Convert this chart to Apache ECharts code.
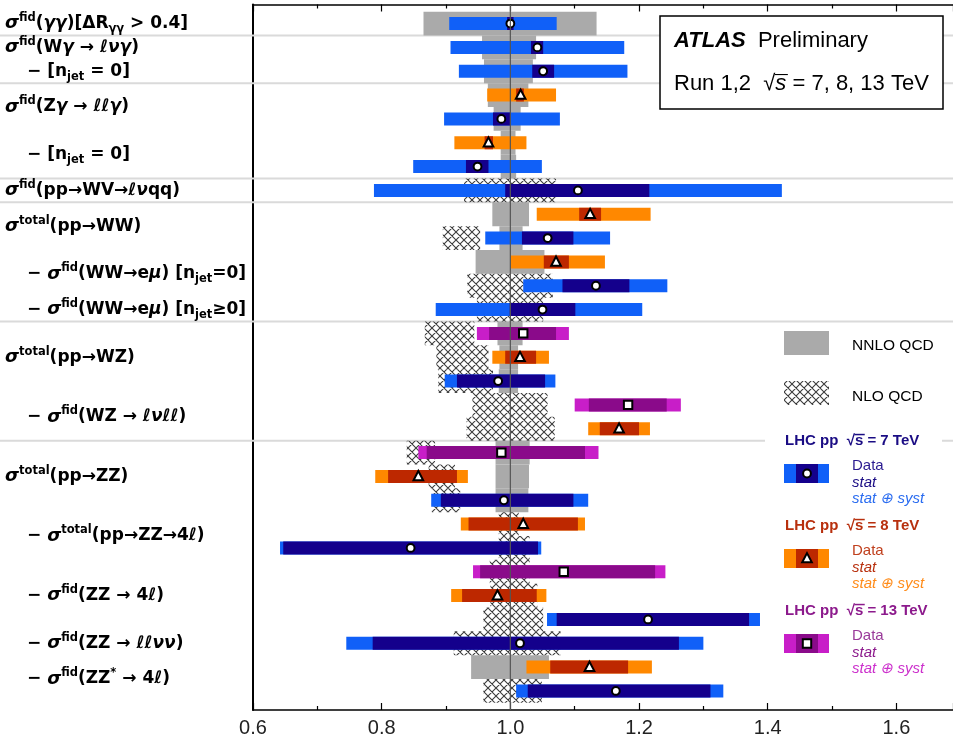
<!DOCTYPE html>
<html>
<head>
<meta charset="utf-8">
<script src="https://cdn.jsdelivr.net/npm/echarts@6/dist/echarts.min.js"></script>
<style>
  html, body { margin: 0; padding: 0; background: #fff; }
  #chart { width: 953px; height: 743px; }
</style>
</head>
<body>
<div id="chart"></div>
<script>
// ---- measurements, one entry per row (top to bottom), ratio data / NNLO ----
const rowEnergy = [7, 7, 7, 8, 7, 8, 7, 7, 8, 7, 8, 7, 7, 13, 8, 7, 13, 8, 13, 8, 7, 8, 7, 13, 8, 7, 7, 8, 7];
const central   = [1.000, 1.042, 1.051, 1.016, 0.986, 0.966, 0.949, 1.105, 1.124, 1.058, 1.071, 1.133, 1.050, 1.020, 1.015,
                   0.981, 1.183, 1.169, 0.986, 0.857, 0.990, 1.020, 0.845, 1.083, 0.980, 1.214, 1.015, 1.123, 1.164];
const statLow   = [0.995, 1.032, 1.034, 1.009, 0.973, 0.960, 0.931, 0.992, 1.107, 1.018, 1.052, 1.081, 0.999, 0.967, 0.992,
                   0.917, 1.122, 1.139, 0.870, 0.810, 0.892, 0.935, 0.647, 0.953, 0.925, 1.072, 0.786, 1.062, 1.027];
const statHigh  = [1.005, 1.051, 1.068, 1.021, 1.000, 0.973, 0.966, 1.216, 1.141, 1.098, 1.091, 1.185, 1.101, 1.071, 1.040,
                   1.054, 1.243, 1.200, 1.116, 0.917, 1.098, 1.105, 1.043, 1.225, 1.041, 1.371, 1.262, 1.183, 1.311];
const totLow    = [0.905, 0.907, 0.920, 0.964, 0.897, 0.913, 0.849, 0.788, 1.041, 0.961, 1.000, 1.020, 0.884, 0.948, 0.972,
                   0.898, 1.100, 1.121, 0.857, 0.790, 0.877, 0.923, 0.642, 0.942, 0.908, 1.057, 0.745, 1.025, 1.009];
const totHigh   = [1.072, 1.177, 1.182, 1.071, 1.077, 1.025, 1.049, 1.422, 1.218, 1.155, 1.147, 1.244, 1.205, 1.091, 1.060,
                   1.070, 1.265, 1.217, 1.137, 0.934, 1.121, 1.116, 1.048, 1.241, 1.056, 1.388, 1.300, 1.220, 1.331];

// ---- theory bands per row (null = not shown) ----
const nnloLow  = [0.865, 0.956, 0.959, 0.965, 0.974, 0.985, 0.985, null, 0.972, 0.983, 0.946, null, null, 0.980, 0.983,
                  0.982, null, null, 0.977, 0.977, 0.977, null, null, null, null, null, null, 0.939, null];
const nnloHigh = [1.134, 1.040, 1.035, 1.028, 1.016, 1.008, 1.009, null, 1.029, 1.019, 1.053, null, null, 1.019, 1.012,
                  1.012, null, null, 1.030, 1.029, 1.028, null, null, null, null, null, null, 1.060, null];
const nloLow   = [null, null, null, null, null, null, null, 0.928, null, 0.895, null, 0.933, 0.948, 0.867, 0.885,
                  0.888, 0.941, 0.932, 0.839, 0.873, 0.878, 0.982, 0.982, 0.968, 0.969, 0.958, 0.912, null, 0.958];
const nloHigh  = [null, null, null, null, null, null, null, 1.071, null, 0.953, null, 1.066, 1.051, 0.944, 0.966,
                  0.973, 1.058, 1.069, 0.883, 0.914, 0.922, 1.013, 1.030, 1.030, 1.042, 1.051, 1.078, null, 1.049];

// ---- process labels and their row positions ----
const labelText = [
  '{s|σ}{sup|fid}{b|(}{g|γγ}{b|)[ΔR}{sub|γγ}{b| > 0.4]}',
  '{s|σ}{sup|fid}{b|(W}{g|γ}{b| → }{g|ℓνγ}{b|)}',
  '{b|− [n}{sub|jet}{b| = 0]}',
  '{s|σ}{sup|fid}{b|(Z}{g|γ}{b| → }{g|ℓℓγ}{b|)}',
  '{b|− [n}{sub|jet}{b| = 0]}',
  '{s|σ}{sup|fid}{b|(pp→WV→}{g|ℓν}{b|qq)}',
  '{s|σ}{sup|total}{b|(pp→WW)}',
  '{b|− }{s|σ}{sup|fid}{b|(WW→e}{g|μ}{b|) [n}{sub|jet}{b|=0]}',
  '{b|− }{s|σ}{sup|fid}{b|(WW→e}{g|μ}{b|) [n}{sub|jet}{b|≥0]}',
  '{s|σ}{sup|total}{b|(pp→WZ)}',
  '{b|− }{s|σ}{sup|fid}{b|(WZ → }{g|ℓνℓℓ}{b|)}',
  '{s|σ}{sup|total}{b|(pp→ZZ)}',
  '{b|− }{s|σ}{sup|total}{b|(pp→ZZ→4}{g|ℓ}{b|)}',
  '{b|− }{s|σ}{sup|fid}{b|(ZZ → 4}{g|ℓ}{b|)}',
  '{b|− }{s|σ}{sup|fid}{b|(ZZ → }{g|ℓℓνν}{b|)}',
  '{b|− }{s|σ}{sup|fid}{b|(ZZ}{sup|*}{b| → 4}{g|ℓ}{b|)}'
];
const labelRow    = [1, 2, 3, 4.5, 6.5, 8, 9.5, 11.5, 13, 15, 17.5, 20, 22.5, 25, 27, 28.5];
const labelIndent = [0, 0, 1, 0, 1, 0, 0, 1, 1, 0, 1, 0, 1, 1, 1, 1];

// group separators (between rows)
const separatorRows = [1.5, 3.5, 7.5, 8.5, 13.5, 18.5];

// axis
const X_MIN = 0.6, X_MAX = 1.688, X_STEP = 0.2;
const Y_MIN = 0.2, Y_MAX = 29.8;
const REF_RATIO = 1.0;

// ---- styling ----
const ENERGY_STYLE = {
  7:  { syst: '#1060f8', stat: '#14008c', marker: 'circle',   text: '#1a0c84', light: '#2a6cf0', dataText: '#2a1a90' },
  8:  { syst: '#ff8800', stat: '#bd2800', marker: 'triangle', text: '#b8300e', light: '#ff8c1a', dataText: '#c0401e' },
  13: { syst: '#c81ec8', stat: '#8a0a8a', marker: 'square',   text: '#8c1a8c', light: '#cc30cc', dataText: '#9a3a9a' }
};
const BAR_H = 13;
const GREY = '#aaaaaa';
const LABEL_FONT = 'DejaVu Sans';
const SANS = 'Liberation Sans';

function makeHatch() {
  const c = document.createElement('canvas');
  c.width = 8; c.height = 8;
  const g = c.getContext('2d');
  g.strokeStyle = '#3c3c3c';
  g.lineWidth = 1.1;
  g.beginPath();
  for (const k of [-8, 0, 8]) {
    g.moveTo(k - 1, -1); g.lineTo(k + 9, 9);
    g.moveTo(k - 1, 9);  g.lineTo(k + 9, -1);
  }
  g.stroke();
  return c;
}
const hatch = makeHatch();

// text width helper, used to place the bar over "√s"
const measureCtx = document.createElement('canvas').getContext('2d');
function textWidth(str, font) { measureCtx.font = font; return measureCtx.measureText(str).width; }

const rowIdx = central.map((_, i) => i);

function bandSeries(lowArr, highArr, fill) {
  const data = rowIdx.filter(i => lowArr[i] != null).map(i => [lowArr[i], highArr[i], i + 1]);
  return {
    type: 'custom', coordinateSystem: 'cartesian2d', data, silent: true, clip: true, z: 2,
    renderItem(params, api) {
      const p0 = api.coord([api.value(0), api.value(2) - 0.5]);
      const p1 = api.coord([api.value(1), api.value(2) + 0.5]);
      return { type: 'rect', shape: { x: p0[0], y: p0[1], width: p1[0] - p0[0], height: p1[1] - p0[1] },
               style: { fill } };
    }
  };
}

function barSeries(lowArr, highArr, key, z) {
  const data = rowIdx.map(i => [lowArr[i], highArr[i], i + 1, rowEnergy[i]]);
  return {
    type: 'custom', coordinateSystem: 'cartesian2d', data, silent: true, clip: true, z,
    renderItem(params, api) {
      const p0 = api.coord([api.value(0), api.value(2)]);
      const p1 = api.coord([api.value(1), api.value(2)]);
      return { type: 'rect', shape: { x: p0[0], y: p0[1] - BAR_H / 2, width: p1[0] - p0[0], height: BAR_H },
               style: { fill: ENERGY_STYLE[api.value(3)][key] } };
    }
  };
}

function markerShape(kind, cx, cy) {
  const st = { fill: '#fff', stroke: '#000', lineWidth: 2 };
  if (kind === 'circle') return { type: 'circle', shape: { cx, cy, r: 3.9 }, style: st };
  if (kind === 'square') return { type: 'rect', shape: { x: cx - 4.2, y: cy - 4.2, width: 8.4, height: 8.4 }, style: st };
  return { type: 'polygon', shape: { points: [[cx, cy - 5.4], [cx + 4.8, cy + 3.8], [cx - 4.8, cy + 3.8]] }, style: st };
}

const markerSeries = {
  type: 'custom', coordinateSystem: 'cartesian2d', silent: true, clip: true, z: 5,
  data: rowIdx.map(i => [central[i], i + 1, rowEnergy[i]]),
  renderItem(params, api) {
    const p = api.coord([api.value(0), api.value(1)]);
    return markerShape(ENERGY_STYLE[api.value(2)].marker, p[0], p[1]);
  }
};

const refLineSeries = {
  type: 'custom', coordinateSystem: 'cartesian2d', silent: true, clip: true, z: 6,
  data: [[REF_RATIO]],
  renderItem(params, api) {
    const a = api.coord([api.value(0), Y_MIN]);
    const b = api.coord([api.value(0), Y_MAX]);
    return { type: 'line', shape: { x1: a[0], y1: a[1], x2: b[0], y2: b[1] },
             style: { stroke: '#555', lineWidth: 1.2 } };
  }
};

const separatorSeries = {
  type: 'custom', coordinateSystem: 'cartesian2d', silent: true, clip: false, z: 1,
  data: separatorRows.map(r => [X_MIN, r]),
  renderItem(params, api) {
    const p = api.coord([api.value(0), api.value(1)]);
    return { type: 'line', shape: { x1: 0, y1: p[1], x2: api.getWidth(), y2: p[1] },
             style: { stroke: '#dadada', lineWidth: 2 } };
  }
};

const LABEL_RICH = {
  b:   { fontFamily: LABEL_FONT, fontWeight: 'bold', fontSize: 17, lineHeight: 23, color: '#000' },
  g:   { fontFamily: LABEL_FONT, fontWeight: 'bold', fontStyle: 'italic', fontSize: 17, lineHeight: 23, color: '#000' },
  s:   { fontFamily: LABEL_FONT, fontWeight: 'bold', fontStyle: 'italic', fontSize: 18, lineHeight: 23, color: '#000' },
  sup: { fontFamily: LABEL_FONT, fontWeight: 'bold', fontSize: 11.5, lineHeight: 12, verticalAlign: 'top', color: '#000' },
  sub: { fontFamily: LABEL_FONT, fontWeight: 'bold', fontSize: 11.5, lineHeight: 11, verticalAlign: 'bottom', color: '#000' }
};

const labelSeries = {
  type: 'custom', coordinateSystem: 'cartesian2d', silent: true, clip: false, z: 7,
  data: labelRow.map((r, i) => [X_MIN, r, i]),
  renderItem(params, api) {
    const i = api.value(2);
    const p = api.coord([api.value(0), api.value(1)]);
    return { type: 'text', x: labelIndent[i] ? 27 : 5, y: p[1],
             style: { text: labelText[i], rich: LABEL_RICH, align: 'left', verticalAlign: 'middle' } };
  }
};

// bar drawn over the "s" of "√s"
function rootBar(x, y, prefix, font, italicFont, size) {
  const x0 = x + textWidth(prefix, font) - 0.5;
  const x1 = x + textWidth(prefix, font) + textWidth('s', italicFont) + 1.5;
  const yy = y - size * 0.43;
  return { type: 'line', shape: { x1: x0, y1: yy, x2: x1, y2: yy }, style: { stroke: '#000', lineWidth: 1.1 } };
}

// ---- legend / info boxes ----
const LEG_SIZE = 15;
function legendEntry(energy, top) {
  const st = ENERGY_STYLE[energy];
  const els = [];
  const lf = 'bold ' + LEG_SIZE + 'px "' + SANS + '"';
  const lfi = 'italic bold ' + LEG_SIZE + 'px "' + SANS + '"';
  els.push({ type: 'text', x: 785, y: top, style: { text: '{t|LHC pp  √}{t|s}{t| = ' + energy + ' TeV}',
    rich: { t: { fontFamily: SANS, fontWeight: 'bold', fontSize: LEG_SIZE, fill: st.text } }, verticalAlign: 'middle' } });
  const rb = rootBar(785, top, 'LHC pp  √', lf, lf, LEG_SIZE);
  rb.style.stroke = st.text; rb.style.lineWidth = 1.5;
  els.push(rb);
  const by = top + 23;
  els.push({ type: 'rect', shape: { x: 784, y: by, width: 45, height: 19 }, style: { fill: st.syst } });
  els.push({ type: 'rect', shape: { x: 796, y: by, width: 22, height: 19 }, style: { fill: st.stat } });
  els.push(markerShape(st.marker, 807, by + 9.5));
  els.push({ type: 'text', x: 852, y: by + 2, style: { text: 'Data', fontFamily: SANS, fontSize: LEG_SIZE, fill: st.dataText, verticalAlign: 'middle' } });
  els.push({ type: 'text', x: 852, y: by + 18.5, style: { text: 'stat', fontFamily: SANS, fontStyle: 'italic', fontSize: LEG_SIZE, fill: st.text, verticalAlign: 'middle' } });
  els.push({ type: 'text', x: 852, y: by + 34.5, style: { text: 'stat ⊕ syst', fontFamily: SANS, fontStyle: 'italic', fontSize: LEG_SIZE, fill: st.light, verticalAlign: 'middle' } });
  return els;
}

const BOX_SIZE = 22;
const boxFont = BOX_SIZE + 'px "' + SANS + '"';
const boxFontI = 'italic ' + BOX_SIZE + 'px "' + SANS + '"';

const graphics = [
  // legend backdrop
  { type: 'rect', shape: { x: 765, y: 323, width: 177, height: 380 }, style: { fill: '#fff' } },
  { type: 'rect', shape: { x: 784, y: 331, width: 45, height: 24 }, style: { fill: GREY } },
  { type: 'text', x: 852, y: 346, style: { text: 'NNLO QCD', fontFamily: SANS, fontSize: 15.5, fill: '#000', verticalAlign: 'middle' } },
  { type: 'rect', shape: { x: 784, y: 381, width: 45, height: 24 }, style: { fill: { image: hatch, repeat: 'repeat' } } },
  { type: 'text', x: 852, y: 397, style: { text: 'NLO QCD', fontFamily: SANS, fontSize: 15.5, fill: '#000', verticalAlign: 'middle' } },
  ...legendEntry(7, 441),
  ...legendEntry(8, 526),
  ...legendEntry(13, 611),
  // experiment box
  { type: 'rect', shape: { x: 660, y: 16, width: 283, height: 93 }, style: { fill: '#fff', stroke: '#000', lineWidth: 1.5 } },
  { type: 'text', x: 674, y: 41, style: { text: '{a|ATLAS}{p|  Preliminary}', verticalAlign: 'middle',
    rich: { a: { fontFamily: SANS, fontWeight: 'bold', fontStyle: 'italic', fontSize: BOX_SIZE, fill: '#000' },
            p: { fontFamily: SANS, fontSize: BOX_SIZE, fill: '#000' } } } },
  { type: 'text', x: 674, y: 84, style: { text: '{p|Run 1,2  √}{i|s}{p| = 7, 8, 13 TeV}', verticalAlign: 'middle',
    rich: { p: { fontFamily: SANS, fontSize: BOX_SIZE, fill: '#000' },
            i: { fontFamily: SANS, fontStyle: 'italic', fontSize: BOX_SIZE, fill: '#000' } } } },
  rootBar(674, 84, 'Run 1,2  √', boxFont, boxFontI, BOX_SIZE)
];

const chart = echarts.init(document.getElementById('chart'), null, { renderer: 'canvas' });

const axisCommon = {
  type: 'value', min: X_MIN, max: X_MAX, interval: X_STEP,
  axisLine: { show: true, onZero: false, lineStyle: { color: '#000', width: 1.5 } },
  axisTick: { show: true, inside: true, length: 7, lineStyle: { color: '#000', width: 1.2 } },
  minorTick: { show: true, splitNumber: 2, length: 4, lineStyle: { color: '#000', width: 1.2 } },
  splitLine: { show: false }, minorSplitLine: { show: false }
};

chart.setOption({
  animation: false,
  backgroundColor: '#fff',
  grid: { left: 253, right: 0, top: 4.5, bottom: 33, containLabel: false, outerBoundsMode: 'none' },
  xAxis: [
    Object.assign({}, axisCommon, {
      position: 'bottom',
      axisLabel: { show: true, margin: 8, fontFamily: SANS, fontSize: 20, color: '#222',
                   showMaxLabel: false, formatter: v => v.toFixed(1) }
    }),
    Object.assign({}, axisCommon, { position: 'top', axisLabel: { show: false } })
  ],
  yAxis: {
    type: 'value', min: Y_MIN, max: Y_MAX, inverse: true,
    axisLine: { show: true, onZero: false, lineStyle: { color: '#000', width: 2 } },
    axisTick: { show: false }, axisLabel: { show: false }, splitLine: { show: false }
  },
  series: [
    separatorSeries,
    bandSeries(nnloLow, nnloHigh, GREY),
    bandSeries(nloLow, nloHigh, { image: hatch, repeat: 'repeat' }),
    barSeries(totLow, totHigh, 'syst', 3),
    barSeries(statLow, statHigh, 'stat', 4),
    markerSeries,
    refLineSeries,
    labelSeries
  ],
  graphic: { elements: graphics.map(e => Object.assign({ z: 100, silent: true }, e)) }
});
</script>
</body>
</html>
